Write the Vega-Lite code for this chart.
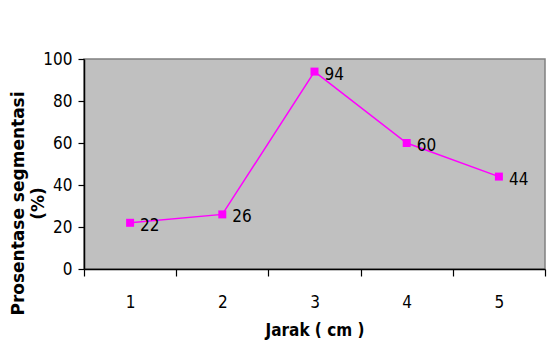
{
  "$schema": "https://vega.github.io/schema/vega-lite/v6.json",
  "autosize": "none",
  "width": 461,
  "height": 210,
  "padding": {"left": 84, "top": 59, "right": 6, "bottom": 81},
  "background": "#ffffff",
  "config": {
    "view": {"fill": "#c0c0c0", "stroke": "#808080", "strokeWidth": 1.5},
    "axis": {"grid": false, "labelFont": "DejaVu Sans Condensed, sans-serif", "labelFontSize": 17, "labelColor": "#000000", "domainColor": "#000000", "tickColor": "#000000", "domainWidth": 1.5, "tickWidth": 1.2, "titleFont": "DejaVu Sans Condensed, sans-serif", "titleFontWeight": "bold", "titleFontSize": 17, "titleColor": "#000000"}
  },
  "data": {"values": [
    {"jarak": "1", "persen": 22},
    {"jarak": "2", "persen": 26},
    {"jarak": "3", "persen": 94},
    {"jarak": "4", "persen": 60},
    {"jarak": "5", "persen": 44}
  ]},
  "encoding": {
    "x": {"field": "jarak", "type": "ordinal", "scale": {"paddingInner": 0, "paddingOuter": 0},
      "axis": {"title": "Jarak ( cm )", "labelAngle": 0, "tickBand": "extent", "tickSize": 7, "labelPadding": 18, "titlePadding": 12}},
    "y": {"field": "persen", "type": "quantitative", "scale": {"domain": [0, 100]},
      "axis": {"title": ["Prosentase segmentasi", "(%)"], "values": [0, 20, 40, 60, 80, 100], "tickSize": 6, "labelPadding": 6, "titleFont": "DejaVu Sans, sans-serif", "titleFontSize": 17, "titleLineHeight": 20, "titleX": -66, "titleY": 144, "titleBaseline": "middle", "titleAlign": "center", "titleAngle": -90}}
  },
  "layer": [
    {"mark": {"type": "line", "color": "#ff00ff", "strokeWidth": 1.5}},
    {"mark": {"type": "point", "shape": "square", "filled": true, "opacity": 1, "color": "#ff00ff", "size": 64}},
    {"mark": {"type": "text", "align": "left", "baseline": "middle", "dx": 10, "dy": 3, "font": "DejaVu Sans Condensed, sans-serif", "fontSize": 17, "color": "#000000"},
     "encoding": {"text": {"field": "persen", "type": "quantitative"}}}
  ]
}
